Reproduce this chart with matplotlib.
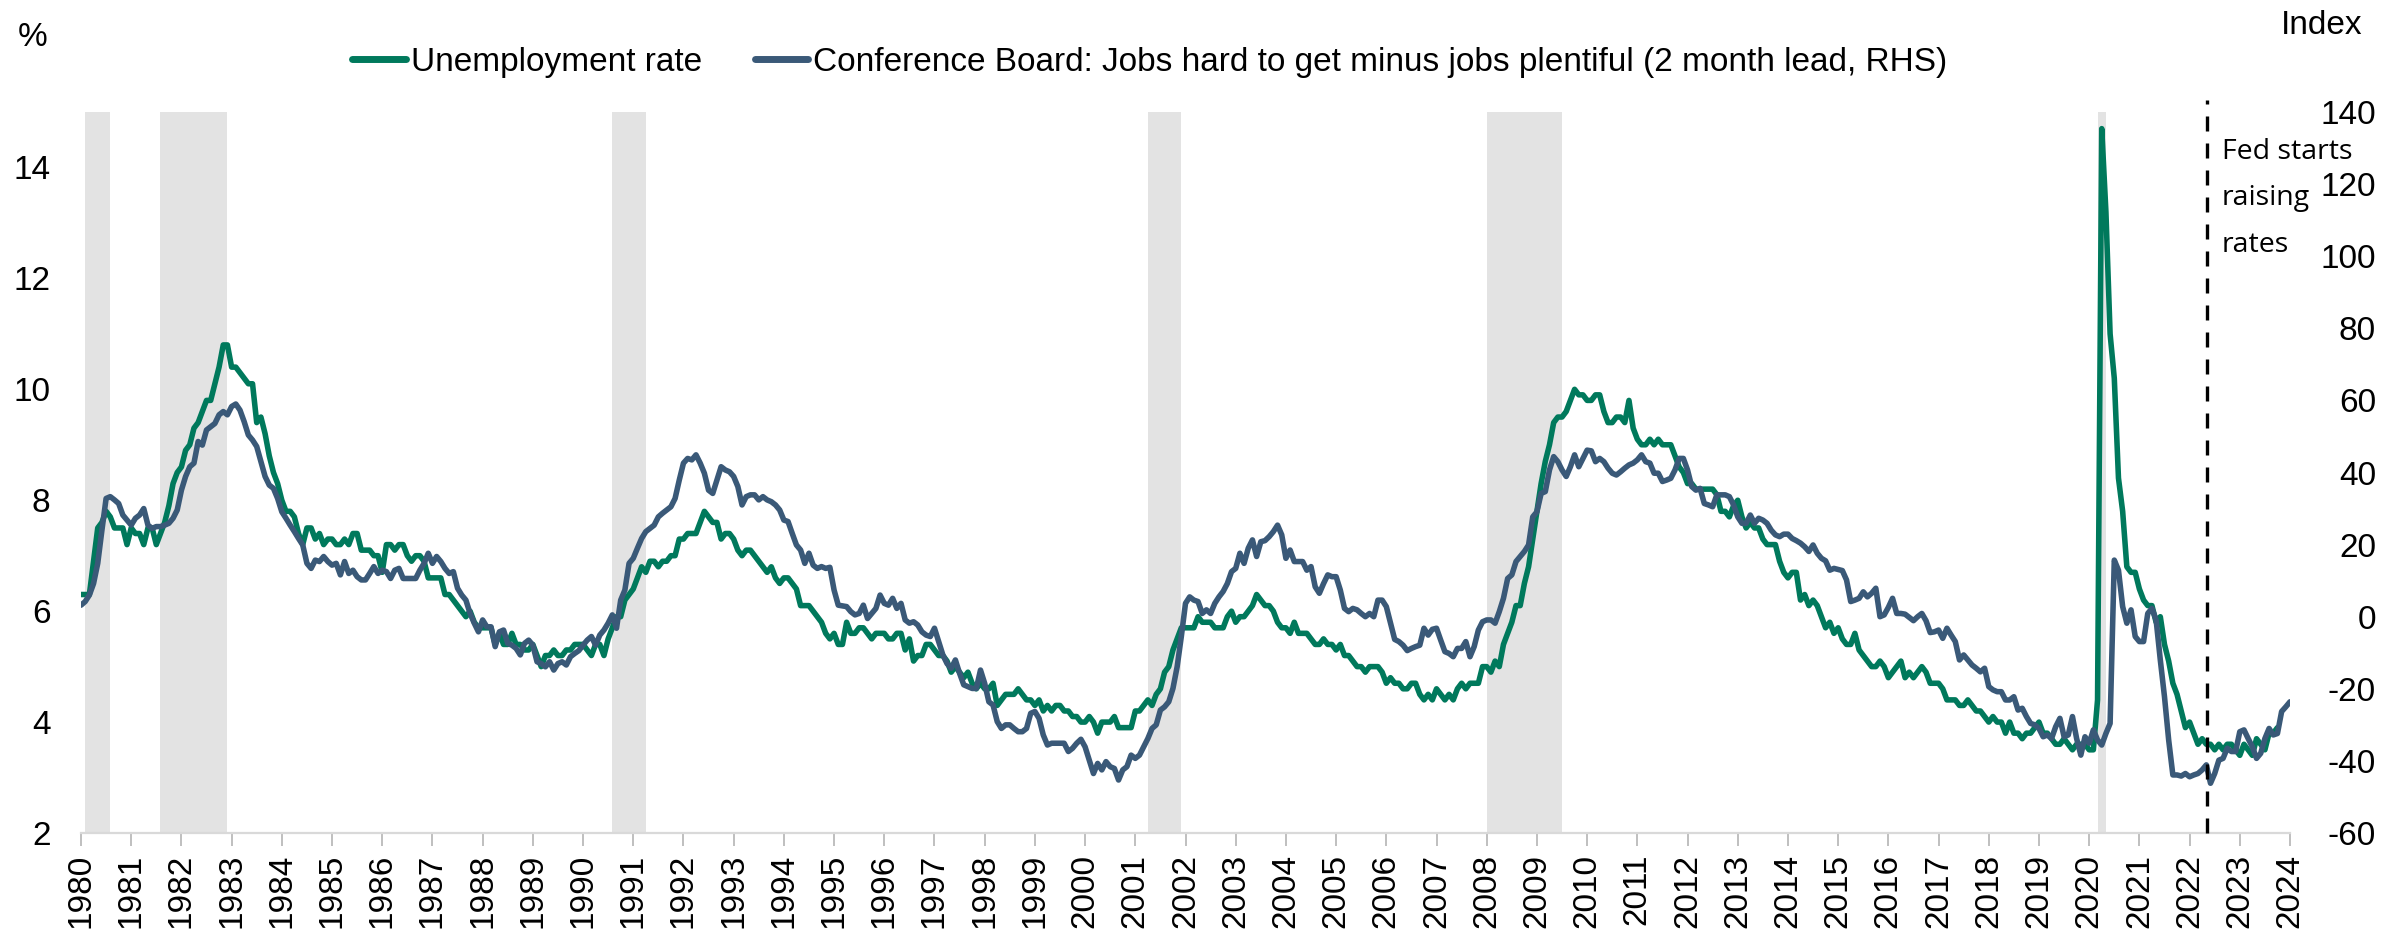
import numpy as np
import matplotlib
matplotlib.use("Agg")
import matplotlib.pyplot as plt
from matplotlib.lines import Line2D

plt.rcParams['font.family'] = ['Liberation Sans', 'DejaVu Sans']

# ---------------- data ----------------
start_year = 1980

# US unemployment rate, %, monthly from Jan 1980 to Oct 2023
unemployment_rate = [
    6.3, 6.3, 6.3, 6.9, 7.5, 7.6, 7.8, 7.7, 7.5, 7.5, 7.5, 7.2,
    7.5, 7.4, 7.4, 7.2, 7.5, 7.5, 7.2, 7.4, 7.6, 7.9, 8.3, 8.5,
    8.6, 8.9, 9.0, 9.3, 9.4, 9.6, 9.8, 9.8, 10.1, 10.4, 10.8, 10.8,
    10.4, 10.4, 10.3, 10.2, 10.1, 10.1, 9.4, 9.5, 9.2, 8.8, 8.5, 8.3,
    8.0, 7.8, 7.8, 7.7, 7.4, 7.2, 7.5, 7.5, 7.3, 7.4, 7.2, 7.3,
    7.3, 7.2, 7.2, 7.3, 7.2, 7.4, 7.4, 7.1, 7.1, 7.1, 7.0, 7.0,
    6.7, 7.2, 7.2, 7.1, 7.2, 7.2, 7.0, 6.9, 7.0, 7.0, 6.9, 6.6,
    6.6, 6.6, 6.6, 6.3, 6.3, 6.2, 6.1, 6.0, 5.9, 6.0, 5.8, 5.7,
    5.7, 5.7, 5.7, 5.4, 5.6, 5.4, 5.4, 5.6, 5.4, 5.4, 5.3, 5.3,
    5.4, 5.2, 5.0, 5.2, 5.2, 5.3, 5.2, 5.2, 5.3, 5.3, 5.4, 5.4,
    5.4, 5.3, 5.2, 5.4, 5.4, 5.2, 5.5, 5.7, 5.9, 5.9, 6.2, 6.3,
    6.4, 6.6, 6.8, 6.7, 6.9, 6.9, 6.8, 6.9, 6.9, 7.0, 7.0, 7.3,
    7.3, 7.4, 7.4, 7.4, 7.6, 7.8, 7.7, 7.6, 7.6, 7.3, 7.4, 7.4,
    7.3, 7.1, 7.0, 7.1, 7.1, 7.0, 6.9, 6.8, 6.7, 6.8, 6.6, 6.5,
    6.6, 6.6, 6.5, 6.4, 6.1, 6.1, 6.1, 6.0, 5.9, 5.8, 5.6, 5.5,
    5.6, 5.4, 5.4, 5.8, 5.6, 5.6, 5.7, 5.7, 5.6, 5.5, 5.6, 5.6,
    5.6, 5.5, 5.5, 5.6, 5.6, 5.3, 5.5, 5.1, 5.2, 5.2, 5.4, 5.4,
    5.3, 5.2, 5.2, 5.1, 4.9, 5.0, 4.9, 4.8, 4.9, 4.7, 4.6, 4.7,
    4.6, 4.6, 4.7, 4.3, 4.4, 4.5, 4.5, 4.5, 4.6, 4.5, 4.4, 4.4,
    4.3, 4.4, 4.2, 4.3, 4.2, 4.3, 4.3, 4.2, 4.2, 4.1, 4.1, 4.0,
    4.0, 4.1, 4.0, 3.8, 4.0, 4.0, 4.0, 4.1, 3.9, 3.9, 3.9, 3.9,
    4.2, 4.2, 4.3, 4.4, 4.3, 4.5, 4.6, 4.9, 5.0, 5.3, 5.5, 5.7,
    5.7, 5.7, 5.7, 5.9, 5.8, 5.8, 5.8, 5.7, 5.7, 5.7, 5.9, 6.0,
    5.8, 5.9, 5.9, 6.0, 6.1, 6.3, 6.2, 6.1, 6.1, 6.0, 5.8, 5.7,
    5.7, 5.6, 5.8, 5.6, 5.6, 5.6, 5.5, 5.4, 5.4, 5.5, 5.4, 5.4,
    5.3, 5.4, 5.2, 5.2, 5.1, 5.0, 5.0, 4.9, 5.0, 5.0, 5.0, 4.9,
    4.7, 4.8, 4.7, 4.7, 4.6, 4.6, 4.7, 4.7, 4.5, 4.4, 4.5, 4.4,
    4.6, 4.5, 4.4, 4.5, 4.4, 4.6, 4.7, 4.6, 4.7, 4.7, 4.7, 5.0,
    5.0, 4.9, 5.1, 5.0, 5.4, 5.6, 5.8, 6.1, 6.1, 6.5, 6.8, 7.3,
    7.8, 8.3, 8.7, 9.0, 9.4, 9.5, 9.5, 9.6, 9.8, 10.0, 9.9, 9.9,
    9.8, 9.8, 9.9, 9.9, 9.6, 9.4, 9.4, 9.5, 9.5, 9.4, 9.8, 9.3,
    9.1, 9.0, 9.0, 9.1, 9.0, 9.1, 9.0, 9.0, 9.0, 8.8, 8.6, 8.5,
    8.3, 8.3, 8.2, 8.2, 8.2, 8.2, 8.2, 8.1, 7.8, 7.8, 7.7, 7.9,
    8.0, 7.7, 7.5, 7.6, 7.5, 7.5, 7.3, 7.2, 7.2, 7.2, 6.9, 6.7,
    6.6, 6.7, 6.7, 6.2, 6.3, 6.1, 6.2, 6.1, 5.9, 5.7, 5.8, 5.6,
    5.7, 5.5, 5.4, 5.4, 5.6, 5.3, 5.2, 5.1, 5.0, 5.0, 5.1, 5.0,
    4.8, 4.9, 5.0, 5.1, 4.8, 4.9, 4.8, 4.9, 5.0, 4.9, 4.7, 4.7,
    4.7, 4.6, 4.4, 4.4, 4.4, 4.3, 4.3, 4.4, 4.3, 4.2, 4.2, 4.1,
    4.0, 4.1, 4.0, 4.0, 3.8, 4.0, 3.8, 3.8, 3.7, 3.8, 3.8, 3.9,
    4.0, 3.8, 3.8, 3.7, 3.6, 3.6, 3.7, 3.6, 3.5, 3.6, 3.6, 3.6,
    3.5, 3.5, 4.4, 14.7, 13.2, 11.0, 10.2, 8.4, 7.8, 6.8, 6.7, 6.7,
    6.4, 6.2, 6.1, 6.1, 5.8, 5.9, 5.4, 5.1, 4.7, 4.5, 4.2, 3.9,
    4.0, 3.8, 3.6, 3.7, 3.6, 3.6, 3.5, 3.6, 3.5, 3.6, 3.6, 3.5,
    3.4, 3.6, 3.5, 3.4, 3.7, 3.6, 3.5, 3.8, 3.8, 3.9,
]

# Conference Board: jobs hard to get minus jobs plentiful (2 month lead), index,
# monthly from Jan 1980 to Jan 2024
jobs_hard_minus_plentiful = [
    3.2, 4.2, 6.0, 9.2, 14.8, 24.0, 32.8, 33.3, 32.4, 31.4, 28.2, 26.8,
    25.4, 27.3, 28.2, 30.0, 25.4, 24.5, 25.0, 25.0, 25.4, 25.9, 27.3, 29.6,
    35.1, 38.9, 41.6, 42.6, 48.6, 47.6, 51.8, 52.7, 53.6, 56.0, 56.9, 56.0,
    58.3, 59.0, 57.3, 54.1, 50.4, 49.0, 47.2, 43.0, 38.9, 36.5, 35.6, 32.8,
    29.1, 27.3, 25.4, 23.6, 21.7, 19.9, 14.8, 13.4, 15.7, 15.3, 16.7, 15.3,
    14.3, 14.8, 11.6, 15.3, 12.0, 12.9, 11.1, 10.2, 10.2, 12.0, 13.9, 12.0,
    12.9, 12.5, 10.6, 12.9, 13.4, 10.6, 10.6, 10.6, 10.6, 12.9, 14.8, 17.6,
    14.8, 16.7, 15.3, 13.4, 12.0, 12.5, 7.9, 6.0, 4.6, 0.9, -1.8, -4.2,
    -0.9, -2.8, -2.8, -8.3, -4.2, -3.7, -7.4, -7.9, -8.8, -10.6, -7.4, -6.5,
    -7.9, -12.5, -13.0, -13.9, -12.5, -14.8, -13.0, -12.5, -13.4, -11.1, -10.2, -9.4,
    -7.9, -6.5, -5.5, -7.9, -5.1, -3.7, -1.8, 0.5, -3.2, 4.6, 7.4, 14.8,
    16.2, 19.0, 21.7, 23.6, 24.5, 25.4, 27.7, 28.7, 29.6, 30.5, 32.8, 37.9,
    42.6, 43.9, 43.5, 44.9, 42.6, 39.8, 35.1, 34.2, 37.9, 41.6, 40.7, 40.2,
    38.9, 36.1, 31.0, 33.3, 33.8, 33.8, 32.4, 33.3, 32.4, 31.9, 31.0, 29.6,
    26.8, 26.4, 23.1, 19.9, 18.5, 14.8, 17.6, 14.3, 13.4, 13.9, 13.4, 13.7,
    7.4, 3.2, 3.0, 2.8, 1.4, 0.5, 0.9, 3.2, -0.5, 0.9, 2.3, 6.0,
    3.7, 3.2, 5.1, 2.3, 3.7, -0.9, -1.8, -1.4, -2.3, -4.2, -5.1, -5.5,
    -3.2, -6.9, -10.6, -13.0, -14.3, -12.0, -15.7, -18.9, -19.4, -19.9, -19.9, -14.8,
    -18.5, -23.6, -24.5, -29.1, -31.0, -30.0, -30.0, -31.0, -31.9, -31.9, -31.0, -26.8,
    -26.3, -28.2, -32.8, -35.6, -35.1, -35.1, -35.1, -35.1, -37.4, -36.5, -35.1, -34.0,
    -36.1, -39.8, -43.5, -40.7, -42.5, -40.2, -41.6, -42.1, -45.3, -42.5, -41.6, -38.4,
    -39.3, -38.4, -36.1, -33.8, -31.0, -30.0, -25.9, -25.0, -23.6, -19.9, -13.9, -5.5,
    3.7, 5.5, 4.6, 4.2, 0.9, 1.9, 0.9, 3.7, 5.5, 7.0, 9.2, 12.5,
    13.4, 17.6, 14.8, 19.0, 21.3, 16.7, 20.8, 21.1, 22.2, 23.6, 25.4, 22.7,
    16.2, 18.5, 15.3, 15.3, 15.3, 12.9, 13.9, 8.3, 6.5, 9.2, 11.6, 11.1,
    11.1, 7.4, 2.3, 1.4, 2.3, 1.9, 0.9, 0.0, 0.9, 0.0, 4.6, 4.6,
    2.8, -1.8, -6.3, -6.9, -7.9, -9.4, -8.8, -8.3, -7.9, -3.2, -5.1, -3.5,
    -3.2, -6.5, -9.7, -10.2, -11.1, -8.8, -8.8, -6.9, -11.1, -8.3, -3.7, -1.4,
    -0.9, -0.9, -1.8, 1.4, 5.1, 10.6, 11.6, 15.3, 16.7, 18.1, 19.9, 27.7,
    29.1, 34.2, 34.7, 40.7, 44.4, 43.0, 40.7, 38.9, 41.6, 44.9, 41.6, 43.9,
    46.2, 46.0, 43.0, 43.9, 43.0, 41.2, 39.8, 39.3, 40.2, 41.2, 42.1, 42.6,
    43.5, 44.9, 43.0, 42.6, 39.8, 39.8, 37.5, 37.9, 38.4, 40.7, 43.9, 43.9,
    40.7, 36.1, 35.1, 35.6, 31.4, 31.0, 30.5, 33.8, 33.8, 33.8, 33.3, 31.0,
    27.7, 25.9, 25.9, 28.2, 25.9, 27.3, 26.8, 25.9, 24.0, 22.7, 22.2, 22.9,
    22.9, 21.7, 21.1, 20.4, 19.4, 18.1, 19.9, 17.6, 16.2, 15.5, 12.9, 13.4,
    13.1, 12.8, 10.2, 4.2, 4.6, 5.1, 6.9, 5.5, 6.5, 7.9, 0.0, 0.5,
    2.6, 5.1, 0.9, 0.9, 0.7, -0.2, -1.1, 0.0, 0.9, -1.1, -4.4, -4.2,
    -3.7, -6.0, -3.2, -5.1, -6.9, -12.0, -10.6, -12.0, -13.4, -14.3, -15.3, -14.3,
    -19.4, -20.3, -20.8, -20.8, -23.1, -23.1, -22.2, -25.9, -25.4, -27.7, -29.6, -30.0,
    -31.0, -33.3, -32.8, -33.8, -30.5, -28.2, -33.3, -32.8, -27.7, -33.8, -38.4, -33.3,
    -35.1, -31.4, -34.2, -35.6, -32.4, -29.6, 15.7, 12.9, 2.8, -1.8, 1.9, -5.5,
    -6.9, -6.9, 0.9, 2.3, -0.9, -12.0, -22.2, -34.2, -43.9, -43.9, -44.2, -43.5,
    -44.4, -43.9, -43.5, -42.5, -41.1, -46.2, -43.5, -39.8, -39.3, -36.5, -37.4, -37.4,
    -31.9, -31.4, -33.8, -36.1, -39.3, -37.9, -33.8, -31.0, -32.8, -32.4, -26.3, -25.0,
    -23.6,
]

# NBER recessions: (start year, start month, end year, end month)
recessions = [
    (1980, 2, 1980, 7),
    (1981, 8, 1982, 11),
    (1990, 8, 1991, 3),
    (2001, 4, 2001, 11),
    (2008, 1, 2009, 6),
    (2020, 3, 2020, 4),
]

fed_line_date = 2022.35
year_ticks = list(range(1980, 2025))
left_ticks = [2, 4, 6, 8, 10, 12, 14]
right_ticks = [-60, -40, -20, 0, 20, 40, 60, 80, 100, 120, 140]

legend_labels = ["Unemployment rate",
                 "Conference Board: Jobs hard to get minus jobs plentiful (2 month lead, RHS)"]
fed_text_lines = ["Fed starts", "raising", "rates"]

# ---------------- style ----------------
GREEN = "#00795C"
BLUE = "#3A5978"
REC = "#E3E3E3"
W, H = 2384, 930
FS = 24
LW = 4.0

x_unemp = start_year + np.arange(len(unemployment_rate)) / 12.0
x_jobs = start_year + np.arange(len(jobs_hard_minus_plentiful)) / 12.0

fig = plt.figure(figsize=(W / 100, H / 100), dpi=100)
ax = fig.add_axes([81 / W, 97 / H, 2209 / W, 721 / H])
ax2 = ax.twinx()

ax.set_xlim(1980, 2024)
ax.set_ylim(2, 15)
ax2.set_ylim(-60, 140)

for (sy, sm, ey, em) in recessions:
    ax.axvspan(sy + (sm - 1) / 12.0, ey + em / 12.0, color=REC, lw=0, zorder=0)

ax.plot(x_unemp, unemployment_rate, color=GREEN, lw=LW, zorder=3,
        solid_joinstyle='round', solid_capstyle='round')
ax2.plot(x_jobs, jobs_hard_minus_plentiful, color=BLUE, lw=LW, zorder=3,
         solid_joinstyle='round', solid_capstyle='round')

ax2.axvline(fed_line_date, ymin=0, ymax=1 + 12 / 721, color='black', lw=2.4,
            dashes=(4.5, 3.6), clip_on=False, zorder=5)

# axes styling
for a in (ax, ax2):
    for s in ('top', 'left', 'right'):
        a.spines[s].set_visible(False)
ax2.spines['bottom'].set_visible(False)
ax.spines['bottom'].set_color('#D9D9D9')
ax.spines['bottom'].set_linewidth(1.6)

ax.set_xticks(year_ticks)
ax.set_xticklabels([str(y) for y in year_ticks])
ax.tick_params(axis='x', direction='out', length=9, width=1.4, color='#BFBFBF',
               pad=6, labelsize=FS, labelrotation=90)
ax.set_yticks(left_ticks)
ax.set_yticklabels([str(v) for v in left_ticks])
ax.tick_params(axis='y', length=0, pad=22, labelsize=FS)

ax2.set_yticks(right_ticks)
ax2.set_yticklabels([str(v) for v in right_ticks])
ax2.tick_params(axis='y', length=0, pad=62, labelsize=FS)
for lbl in ax2.get_yticklabels():
    lbl.set_horizontalalignment('right')

# axis titles
fig.text(18 / W, 1 - 38 / H, "%", fontsize=FS, ha='left', va='center')
fig.text(2362 / W, 1 - 25 / H, "Index", fontsize=FS, ha='right', va='center')

# annotation
for line, ypx in zip(fed_text_lines, [152, 198, 245]):
    fig.text(2222 / W, 1 - ypx / H, line, fontsize=20.5, ha='left', va='center',
             family=['Open Sans', 'DejaVu Sans'])

# legend
handles = [Line2D([], [], color=GREEN, lw=5, solid_capstyle='round'),
           Line2D([], [], color=BLUE, lw=5, solid_capstyle='round')]
fig.legend(handles, legend_labels, loc='center', bbox_to_anchor=(1150 / W, 1 - 62 / H),
           ncol=2, frameon=False, fontsize=FS, handlelength=1.6, handletextpad=0.15,
           columnspacing=1.6, borderpad=0, borderaxespad=0)

fig.savefig("out.png", dpi=100)
